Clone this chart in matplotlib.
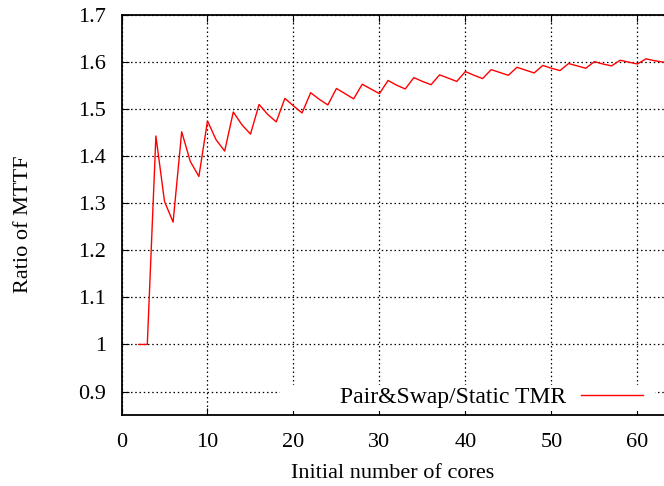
import numpy as np
import matplotlib
matplotlib.use('Agg')
import matplotlib.pyplot as plt
from matplotlib.patches import Rectangle

# datos
cores = list(range(2, 64))
ratio = [1.0, 1.0, 1.443, 1.304, 1.26, 1.452, 1.389, 1.357, 1.475, 1.435,
         1.411, 1.494, 1.467, 1.447, 1.510, 1.489, 1.473, 1.523, 1.507, 1.492,
         1.535, 1.521, 1.509, 1.544, 1.533, 1.522, 1.553, 1.543, 1.533, 1.561,
         1.551, 1.543, 1.567, 1.559, 1.552, 1.573, 1.566, 1.559, 1.580, 1.572,
         1.565, 1.584, 1.578, 1.572, 1.589, 1.583, 1.577, 1.593, 1.587, 1.582,
         1.597, 1.592, 1.587, 1.601, 1.596, 1.592, 1.604, 1.600, 1.596, 1.607,
         1.603, 1.600]
x_ticks = [0, 10, 20, 30, 40, 50, 60]
y_ticks = [0.9, 1.0, 1.1, 1.2, 1.3, 1.4, 1.5, 1.6, 1.7]
y_labels = ['0.9', '1', '1.1', '1.2', '1.3', '1.4', '1.5', '1.6', '1.7']

plt.rcParams['font.family'] = ['Liberation Serif', 'DejaVu Serif']
fs = 16

fig = plt.figure(figsize=(6.64, 4.86), dpi=100)
ax = fig.add_axes([0.183, 0.146, 0.817, 0.823])

ax.plot(cores, ratio, color='red', lw=1.0, label='Pair&Swap/Static TMR', zorder=3)

ax.set_xlim(0, 63.1)
ax.set_ylim(0.85, 1.7)
ax.set_xticks(x_ticks)
ax.set_yticks(y_ticks)
ax.set_yticklabels(y_labels)
ax.tick_params(direction='in', labelsize=fs, length=5, top=True, right=False)
ax.tick_params(axis='x', pad=13)
ax.tick_params(axis='y', pad=11)
ax.grid(True, color='black', linestyle=(0, (1.2, 2.2)), lw=0.9)
ax.spines['right'].set_visible(False)
for s in ['left', 'top', 'bottom']:
    ax.spines[s].set_linewidth(1.3)

ax.set_xlabel('Initial number of cores', fontsize=fs)
ax.set_ylabel('Ratio of MTTF', fontsize=fs)
ax.xaxis.set_label_coords(0.5, -0.122)
ax.yaxis.set_label_coords(-0.163, 0.478)

# caja blanca de la leyenda (tapa la grilla como en gnuplot)
ax.add_patch(Rectangle((0.292, 0.01), 0.691, 0.065, transform=ax.transAxes,
                       facecolor='white', edgecolor='none', zorder=2))

leg = ax.legend(loc='center right', markerfirst=False, frameon=False, fontsize=17,
                handlelength=2.6, handletextpad=0.65, borderaxespad=0, borderpad=0,
                bbox_to_anchor=(0.961, 0.045))
leg.set_zorder(5)

fig.savefig('out.png', dpi=100)
